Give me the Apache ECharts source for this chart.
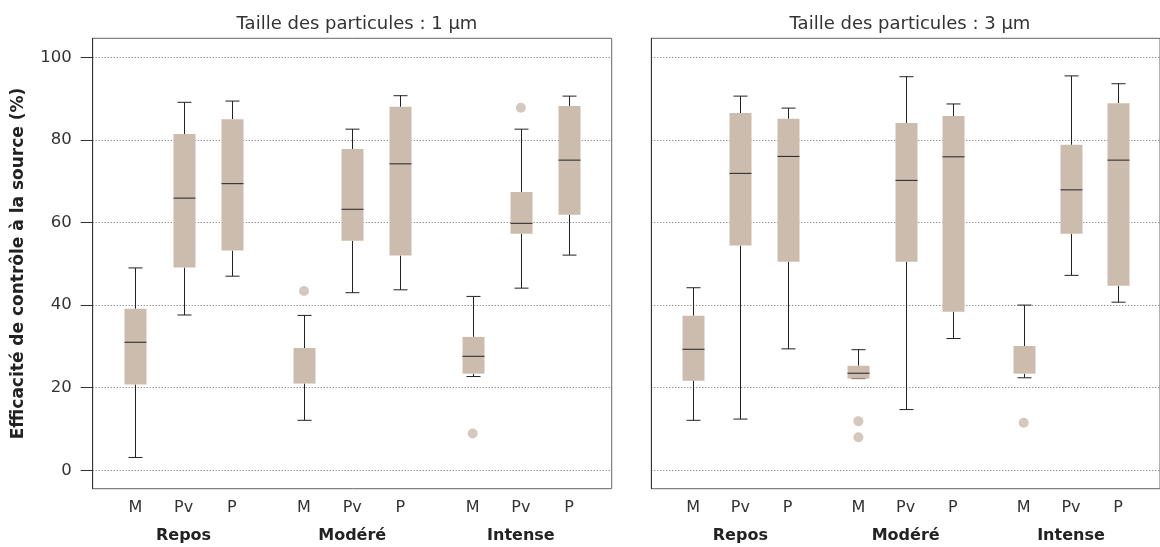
<!DOCTYPE html>
<html><head><meta charset="utf-8">
<script src="https://cdn.jsdelivr.net/npm/echarts@6/dist/echarts.min.js"></script>
<style>html,body{margin:0;padding:0;background:#fff}#c{width:1160px;height:547px}</style>
</head><body><div id="c"></div>
<script>
const panelTitles = ['Taille des particules : 1 µm', 'Taille des particules : 3 µm'];
const yAxisTitle = 'Efficacité de contrôle à la source (%)';
const activities = ['Repos', 'Modéré', 'Intense'];
const masks = ['M', 'Pv', 'P', 'M', 'Pv', 'P', 'M', 'Pv', 'P'];
const xPositions = [1, 2, 3, 4.5, 5.5, 6.5, 8, 9, 10];
const groupPositions = [2, 5.5, 9];
const yTicks = [0, 20, 40, 60, 80, 100];

// [min, Q1, median, Q3, max]
const boxes1um = [
  [3.1, 20.8, 31.0, 39.1, 49.0],
  [37.6, 49.1, 65.9, 81.4, 89.1],
  [47.0, 53.2, 69.4, 85.0, 89.4],
  [12.1, 21.0, 21.0, 29.6, 37.5],
  [43.0, 55.6, 63.2, 77.8, 82.6],
  [43.7, 52.0, 74.2, 88.0, 90.7],
  [22.7, 23.4, 27.6, 32.3, 42.1],
  [44.1, 57.3, 59.8, 67.4, 82.6],
  [52.1, 61.9, 75.1, 88.2, 90.6]
];
// [box index, value]
const outliers1um = [[3, 43.4], [6, 8.9], [7, 87.8]];

const boxes3um = [
  [12.1, 21.7, 29.3, 37.4, 44.2],
  [12.4, 54.4, 71.9, 86.5, 90.6],
  [29.4, 50.5, 76.0, 85.1, 87.7],
  [22.2, 22.2, 23.5, 25.3, 29.2],
  [14.7, 50.5, 70.2, 84.1, 95.3],
  [31.9, 38.4, 75.9, 85.8, 88.7],
  [22.4, 23.4, 23.4, 30.1, 40.0],
  [47.2, 57.3, 67.9, 78.8, 95.5],
  [40.7, 44.7, 75.1, 88.9, 93.6]
];
const outliers3um = [[3, 11.9], [3, 8.0], [6, 11.5]];

const BOX_COLOR = '#cbbcad';
const LINE_COLOR = '#222';
const BOX_W = 22;
const CAP_W = 14;
const FONT = "'DejaVu Sans', sans-serif";

function renderBox(params, api) {
  const x = api.value(0);
  const pMin = api.coord([x, api.value(1)]);
  const pQ1 = api.coord([x, api.value(2)]);
  const pMed = api.coord([x, api.value(3)]);
  const pQ3 = api.coord([x, api.value(4)]);
  const pMax = api.coord([x, api.value(5)]);
  const cx = Math.round(pMin[0]) + 0.5;
  const ln = (x1, y1, x2, y2) => ({
    type: 'line',
    shape: { x1, y1, x2, y2 },
    style: { stroke: LINE_COLOR, lineWidth: 1 }
  });
  const children = [
    ln(cx, pMax[1], cx, pQ3[1]),
    ln(cx, pQ1[1], cx, pMin[1]),
    ln(cx - CAP_W / 2, pMax[1], cx + CAP_W / 2, pMax[1]),
    ln(cx - CAP_W / 2, pMin[1], cx + CAP_W / 2, pMin[1]),
    {
      type: 'rect',
      shape: { x: cx - BOX_W / 2, y: pQ3[1], width: BOX_W, height: pQ1[1] - pQ3[1] },
      style: { fill: BOX_COLOR }
    }
  ];
  if (api.value(3) > api.value(2) && api.value(3) < api.value(4)) {
    children.push(ln(cx - BOX_W / 2, pMed[1], cx + BOX_W / 2, pMed[1]));
  }
  return { type: 'group', children };
}

function boxData(boxes) {
  return boxes.map((b, i) => [xPositions[i]].concat(b));
}
function outlierData(outs) {
  return outs.map(o => [xPositions[o[0]], o[1]]);
}

const gridLeft = [92.7, 651.3];
const grids = gridLeft.map(l => ({
  left: l, top: 38.3, width: 519, height: 450.4,
  show: true, borderColor: '#666', borderWidth: 1, containLabel: false
}));

const xAxes = [];
const yAxes = [];
[0, 1].forEach(g => {
  xAxes.push({
    gridIndex: g, type: 'value', position: 'bottom', min: 0.115, max: 10.885,
    axisLine: { show: false }, axisTick: { show: false }, splitLine: { show: false },
    axisLabel: {
      customValues: xPositions,
      formatter: v => masks[xPositions.indexOf(v)] || '',
      fontFamily: FONT, fontSize: 16, color: '#333', margin: 11
    }
  });
  xAxes.push({
    gridIndex: g, type: 'value', position: 'bottom', min: 0.115, max: 10.885,
    axisLine: { show: false }, axisTick: { show: false }, splitLine: { show: false },
    axisLabel: {
      customValues: groupPositions,
      formatter: v => activities[groupPositions.indexOf(v)] || '',
      fontFamily: FONT, fontSize: 16, fontWeight: 'bold', color: '#222', margin: 39
    }
  });
  yAxes.push({
    gridIndex: g, type: 'value', min: -4.46, max: 104.6,
    axisLine: { show: true, lineStyle: { color: '#333', width: 1 } },
    axisTick: { show: g === 0, length: 12, customValues: yTicks, lineStyle: { color: '#333' } },
    axisLabel: {
      show: g === 0, customValues: yTicks,
      fontFamily: FONT, fontSize: 16.5, color: '#333', margin: 21
    },
    splitLine: { show: true, lineStyle: { color: '#666', type: [1, 2], width: 1 } },
    name: g === 0 ? yAxisTitle : '',
    nameLocation: 'middle', nameGap: 66,
    nameTextStyle: { fontFamily: FONT, fontSize: 17, fontWeight: 'bold', color: '#222' }
  });
});

const chart = echarts.init(document.getElementById('c'), null, { renderer: 'canvas' });
chart.setOption({
  animation: false,
  backgroundColor: '#fff',
  title: [
    { text: panelTitles[0], left: 352, top: 10, textAlign: 'center',
      textStyle: { fontFamily: FONT, fontSize: 18, fontWeight: 'normal', color: '#333' } },
    { text: panelTitles[1], left: 905, top: 10, textAlign: 'center',
      textStyle: { fontFamily: FONT, fontSize: 18, fontWeight: 'normal', color: '#333' } }
  ],
  grid: grids,
  xAxis: xAxes,
  yAxis: yAxes,
  series: [
    { type: 'custom', xAxisIndex: 0, yAxisIndex: 0, renderItem: renderBox,
      encode: { x: 0, y: [1, 2, 3, 4, 5] }, data: boxData(boxes1um), clip: false },
    { type: 'scatter', xAxisIndex: 0, yAxisIndex: 0, symbolSize: 10,
      itemStyle: { color: BOX_COLOR }, data: outlierData(outliers1um) },
    { type: 'custom', xAxisIndex: 2, yAxisIndex: 1, renderItem: renderBox,
      encode: { x: 0, y: [1, 2, 3, 4, 5] }, data: boxData(boxes3um), clip: false },
    { type: 'scatter', xAxisIndex: 2, yAxisIndex: 1, symbolSize: 10,
      itemStyle: { color: BOX_COLOR }, data: outlierData(outliers3um) }
  ]
});
</script>
</body></html>
